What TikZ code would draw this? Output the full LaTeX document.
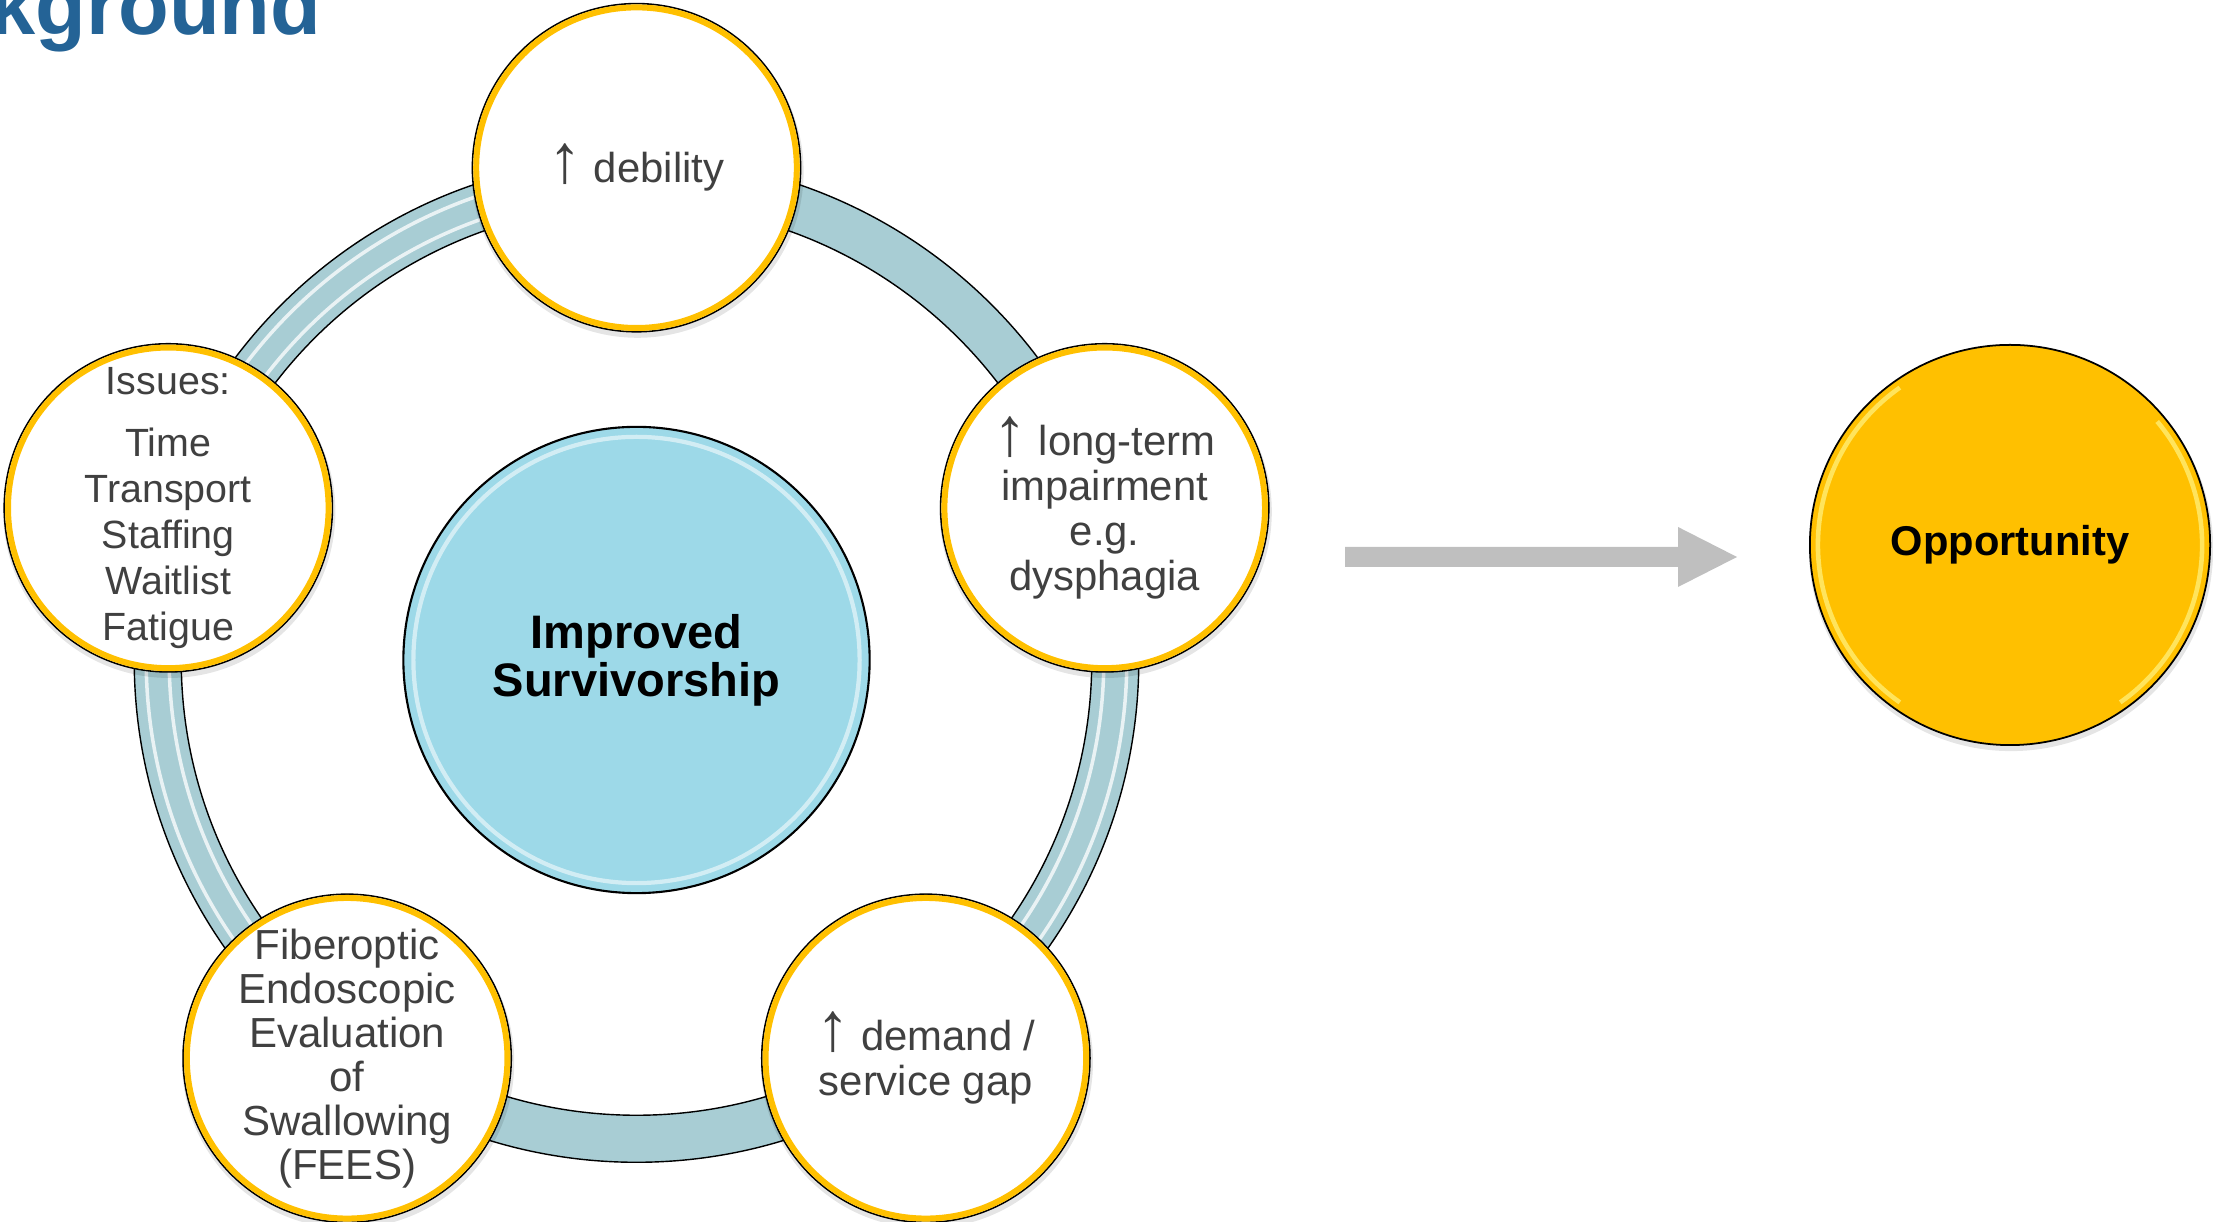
\documentclass[tikz,border=0pt]{standalone}
\usepackage{fontspec}
\setmainfont{Liberation Sans}
\usetikzlibrary{calc}
\definecolor{ringc}{HTML}{A8CDD4}
\definecolor{gold}{HTML}{FFC000}
\definecolor{goldlight}{HTML}{FFE45C}
\definecolor{lightblue}{HTML}{9DD9E8}
\definecolor{txtgray}{HTML}{404040}
\definecolor{titleblue}{HTML}{246396}
\definecolor{arrowgray}{HTML}{BFBFBF}
\newcommand{\uparr}{\scalebox{1.6}[1.65]{↑}}
\tikzset{
  satnode/.style={circle, minimum size=3.28cm, inner sep=0pt, fill=white, draw=black, line width=0.45pt},
  goldrim/.style={draw=gold, line width=1.7pt},
  sattext/.style={font=\fontsize{11.9pt}{12.8pt}\selectfont, text=txtgray, align=center, inner sep=0pt},
  stripe/.style={draw=white, opacity=0.75, line width=1pt},
  shadowc/.style={fill=black, opacity=0.10}
}
\begin{document}
\begin{tikzpicture}[x=0.01cm,y=0.01cm]
\useasboundingbox (0,0) rectangle (2213,1222);
\clip (0,0) rectangle (2213,1222);

% title fragment
\node[anchor=base east, inner sep=0pt, font=\bfseries\fontsize{23.6pt}{28pt}\selectfont, text=titleblue] (title) at (322,1187) {kground};

\coordinate (C) at (636.5,562);

% ring
\fill[ringc, even odd rule] (C) circle[radius=5.02cm] (C) circle[radius=4.55cm];
\draw[black, line width=0.4pt] (C) circle[radius=5.02cm];
\draw[black, line width=0.4pt] (C) circle[radius=4.55cm];
\foreach \a/\b in {90/162, -54/18, 162/234} {
  \draw[stripe] ($(C)+(\a:4.67cm)$) arc[start angle=\a, end angle=\b, radius=4.67cm];
  \draw[stripe] ($(C)+(\a:4.90cm)$) arc[start angle=\a, end angle=\b, radius=4.90cm];
}

% centre circle
\node[circle, minimum size=4.66cm, inner sep=0pt, fill=lightblue, draw=black, line width=0.6pt] (core) at (C) {};
\draw[white, opacity=0.55, line width=1.2pt] (core.center) circle[radius=2.23cm];
\node[font=\bfseries\fontsize{13.37pt}{13.66pt}\selectfont, align=center, inner sep=0pt] (coretext) at (core.center) {Improved\\Survivorship};

% satellite positions
\coordinate (pTop) at ($(C)+(90:4.92cm)$);
\coordinate (pRight) at ($(C)+(18:4.92cm)$);
\coordinate (pBR) at ($(C)+(-54:4.92cm)$);
\coordinate (pBL) at ($(C)+(-126:4.92cm)$);
\coordinate (pLeft) at ($(C)+(162:4.92cm)$);

\foreach \p in {pTop,pRight,pBR,pBL,pLeft} {
  \fill[shadowc] ($(\p)+(0.01cm,-0.04cm)$) circle[radius=1.66cm];
}

\node[satnode] (sTop) at (pTop) {};
\node[satnode] (sRight) at (pRight) {};
\node[satnode] (sBR) at (pBR) {};
\node[satnode] (sBL) at (pBL) {};
\node[satnode] (sLeft) at (pLeft) {};
\foreach \n in {sTop,sRight,sBR,sBL,sLeft} {
  \draw[goldrim] (\n.center) circle[radius=1.602cm];
}

\node[sattext] (tTop) at (sTop.center) {\uparr\ debility};
\node[sattext] (tRight) at (sRight.center) {\uparr\ long-term\\impairment\\e.g.\\dysphagia};
\node[sattext] (tBR) at (sBR.center) {\uparr\ demand /\\service gap};
\node[sattext, font=\fontsize{11.95pt}{12.5pt}\selectfont] (tBL) at (sBL.center) {Fiberoptic\\Endoscopic\\Evaluation\\of\\Swallowing\\(FEES)};
\node[sattext, font=\fontsize{11.2pt}{13.1pt}\selectfont] (tLeft) at (sLeft.center) {Issues:\\[4.5pt]Time\\Transport\\Staffing\\Waitlist\\Fatigue};

% arrow
\coordinate (a0) at (1345,665);
\coordinate (a1) at (1737,665);
\fill[arrowgray] ($(a0)+(0,10)$) -- ($(a1)+(-59,10)$) -- ($(a1)+(-59,30)$) -- (a1) -- ($(a1)+(-59,-30)$) -- ($(a1)+(-59,-10)$) -- ($(a0)+(0,-10)$) -- cycle;

% opportunity
\fill[shadowc] (2011,673) circle[radius=2.02cm];
\node[circle, minimum size=4.0cm, inner sep=0pt, fill=gold, draw=black, line width=0.5pt] (opp) at (2010,677) {};
\draw[goldlight, line width=1.3pt] ($(opp.center)+(125:1.92cm)$) arc[start angle=125, end angle=235, radius=1.92cm];
\draw[goldlight, line width=1.3pt] ($(opp.center)+(-55:1.92cm)$) arc[start angle=-55, end angle=40, radius=1.92cm];
\node[font=\bfseries\fontsize{11.84pt}{14pt}\selectfont, inner sep=0pt] (opptext) at (opp.center) {Opportunity};
\end{tikzpicture}
\end{document}
